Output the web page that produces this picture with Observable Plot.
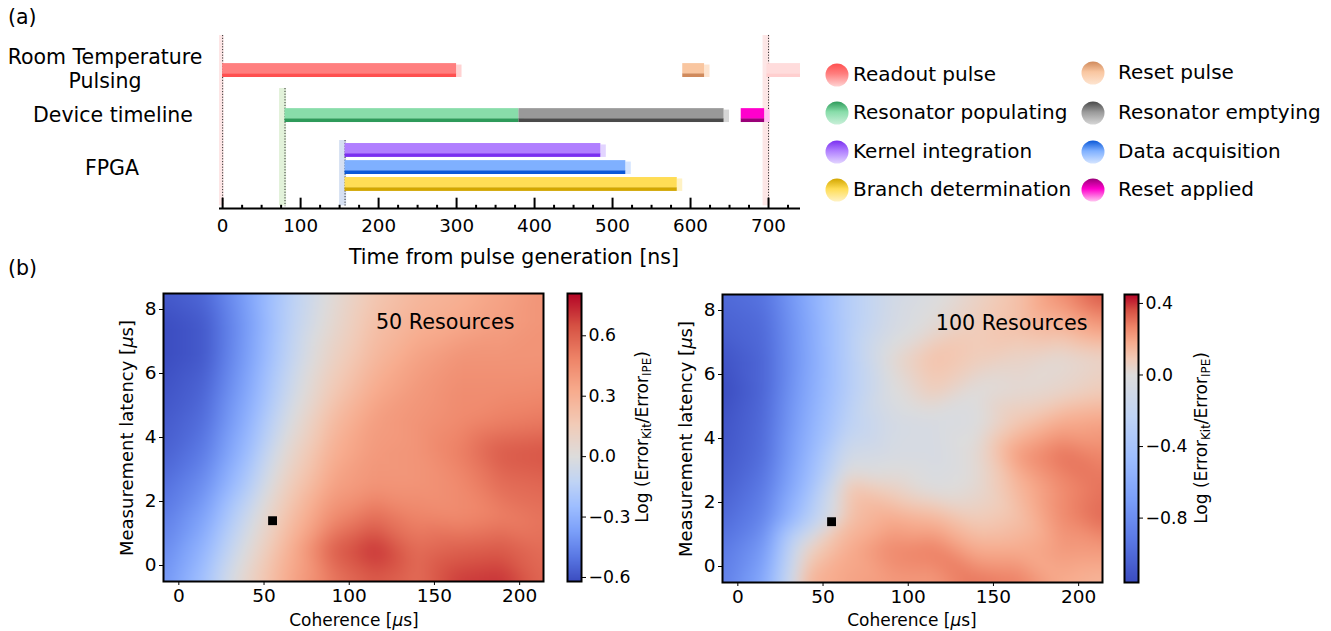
<!DOCTYPE html>
<html><head><meta charset="utf-8">
<script src="https://cdn.jsdelivr.net/npm/d3@7"></script>
<script src="https://cdn.jsdelivr.net/npm/@observablehq/plot@0.6"></script>
<style>
html,body{margin:0;padding:0;background:#fff;}
body{width:1331px;height:631px;overflow:hidden;position:relative;color:#000;font-family:"DejaVu Sans",sans-serif;}
.abs{position:absolute;white-space:nowrap;line-height:1;}
.c{transform:translate(-50%,-50%);}
.l{transform:translate(0,-50%);}
.rot{transform:translate(-50%,-50%) rotate(-90deg);}
.dot{position:absolute;width:23px;height:23px;border-radius:50%;transform:translate(-50%,-50%);}
sub{font-size:0.7em;vertical-align:-0.25em;}
</style></head><body>
<script>
const FONT = `"DejaVu Sans", sans-serif`;
// ---------------- DATA ----------------
// (a) timeline
const barTask  = ["Readout pulse","Reset pulse","Readout pulse (next cycle)","Resonator populating","Resonator emptying","Reset applied","Kernel integration","Data acquisition","Branch determination"];
const barStart = [0, 590, 698, 80, 380, 665, 157, 157, 157];
const barEnd   = [300, 618, 745, 380, 643, 695, 485, 517, 583];
const barLane  = ["rt","rt","rt","dev","dev","dev","fpgaK","fpgaD","fpgaB"];
const markerTime = [0, 80, 157, 700];
const markerFrom = ["rt","dev","fpga","rt"];
const markerKind = ["readout","populate","fpga","readout"];
const timeTicks  = [0,100,200,300,400,500,600,700];
const timeMinor  = [25,50,75,125,150,175,225,250,275,325,350,375,425,450,475,525,550,575,625,650,675,725];
const laneLabels = [["Room Temperature","Pulsing"],["Device timeline"],["FPGA"]];
const legendLeft  = ["Readout pulse","Resonator populating","Kernel integration","Branch determination"];
const legendRight = ["Reset pulse","Resonator emptying","Data acquisition","Reset applied"];

// (b) heatmaps: grid of log error ratios, rows from top latency to bottom
const coherenceGrid = [-9, 15, 40, 65, 90, 115, 140, 165, 190, 214];
const latencyGrid   = [8.5, 7.5, 6.5, 5.5, 4.5, 3.5, 2.5, 1.5, 0.5, -0.5];
const values50 = [
  [-0.58,-0.54,-0.36,-0.15, 0.02, 0.18, 0.26, 0.30, 0.36, 0.42],
  [-0.62,-0.58,-0.38,-0.14, 0.05, 0.22, 0.30, 0.34, 0.38, 0.42],
  [-0.62,-0.58,-0.37,-0.12, 0.10, 0.26, 0.36, 0.42, 0.42, 0.42],
  [-0.60,-0.55,-0.34,-0.08, 0.16, 0.32, 0.40, 0.45, 0.45, 0.46],
  [-0.58,-0.52,-0.30,-0.02, 0.24, 0.38, 0.42, 0.46, 0.50, 0.52],
  [-0.56,-0.48,-0.25, 0.06, 0.30, 0.40, 0.42, 0.50, 0.62, 0.64],
  [-0.52,-0.42,-0.18, 0.14, 0.36, 0.42, 0.42, 0.46, 0.56, 0.58],
  [-0.48,-0.35,-0.08, 0.22, 0.45, 0.56, 0.48, 0.46, 0.50, 0.54],
  [-0.44,-0.28, 0.00, 0.30, 0.60, 0.72, 0.56, 0.60, 0.62, 0.56],
  [-0.40,-0.22, 0.08, 0.34, 0.52, 0.62, 0.56, 0.70, 0.72, 0.58]
];
const values100 = [
  [-1.00,-0.95,-0.62,-0.30,-0.10,-0.02, 0.05, 0.12, 0.25, 0.36],
  [-1.05,-1.00,-0.65,-0.30,-0.08, 0.02, 0.08, 0.12, 0.15, 0.22],
  [-1.12,-1.02,-0.66,-0.30, 0.02, 0.12, 0.08, 0.05, 0.02, 0.05],
  [-1.16,-1.02,-0.64,-0.30,-0.02, 0.08, 0.00, 0.02, 0.04, 0.08],
  [-1.12,-1.00,-0.60,-0.25,-0.08,-0.05,-0.02, 0.10, 0.18, 0.20],
  [-1.10,-0.98,-0.55,-0.10,-0.06,-0.06, 0.02, 0.22, 0.30, 0.26],
  [-1.06,-0.92,-0.48, 0.10, 0.05,-0.02, 0.02, 0.15, 0.25, 0.30],
  [-1.00,-0.85,-0.35, 0.12, 0.18, 0.15, 0.08, 0.12, 0.25, 0.32],
  [-0.92,-0.72, 0.05, 0.18, 0.26, 0.28, 0.18, 0.18, 0.22, 0.22],
  [-0.88,-0.62, 0.15, 0.20, 0.22, 0.22, 0.30, 0.28, 0.18, 0.15]
];
const operatingPoint = [{coherence: 55, latency: 1.4}];
const coherenceTicks = [0,50,100,150,200];
const latencyTicks = [0,2,4,6,8];
const cbTicks50 = [-0.6,-0.3,0.0,0.3,0.6];
const cbTicks100 = [-0.8,-0.4,0.0,0.4];
const cbDomain50 = [-0.62, 0.81];
const cbDomain100 = [-1.16, 0.45];

// ---------------- STYLE / LAYOUT ----------------
const taskStyle = {
  "Readout pulse": {face:"#ff7f7f", edge:"#ff5050", cap:"#ffd2d2"},
  "Reset pulse": {face:"#f9c6a0", edge:"#d08a5c", cap:"#fde4d0"},
  "Readout pulse (next cycle)": {face:"#ffdcdc", edge:"#ffcfcf", cap:"#ffecec"},
  "Resonator populating": {face:"#88ddaa", edge:"#2e9a5a", cap:"#c8efd8"},
  "Resonator emptying": {face:"#999999", edge:"#4a4a4a", cap:"#d6d6d6"},
  "Reset applied": {face:"#ff00cc", edge:"#9a0078", cap:"#ffc4f0"},
  "Kernel integration": {face:"#b07fff", edge:"#7a2ff0", cap:"#e2d4ff"},
  "Data acquisition": {face:"#7fb0ff", edge:"#0a58d8", cap:"#d4e4ff"},
  "Branch determination": {face:"#ffdd55", edge:"#d2a600", cap:"#fff2c4"}
};
const laneCenter = {rt: 2.25, dev: 4.78, fpgaK: 6.74, fpgaD: 7.70, fpgaB: 8.65};
const markerTop = {rt: 0.28, dev: 3.26, fpga: 6.18};
const markerColor = {readout: "#fde6e6", populate: "#e2f2da", fpga: "#d6e0f2"};
const coolwarm = d3.piecewise(d3.interpolateRgb, ['#3b4cc0','#5a78e4','#7b9ff9','#9ebeff','#c0d4f5','#dddcdc','#f2cbb7','#f7ac8e','#ee8468','#d65244','#b40426']);

function place(node, left, top) {
  const d = document.createElement("div");
  d.style.position = "absolute"; d.style.left = left + "px"; d.style.top = top + "px";
  d.appendChild(node); document.body.appendChild(d); return d;
}
function text(html, x, y, cls, extra) {
  const d = document.createElement("div");
  d.className = "abs " + cls; d.innerHTML = html;
  d.style.left = x + "px"; d.style.top = y + "px";
  if (extra) Object.assign(d.style, extra);
  document.body.appendChild(d); return d;
}

// ---------------- (a) TIMELINE ----------------
const bars = barTask.map((t, i) => ({task: t, start: barStart[i], end: barEnd[i], c: laneCenter[barLane[i]]}));
const markers = markerTime.map((t, i) => ({t, from: markerFrom[i], kind: markerKind[i]}));
const H = 0.39, E = 0.2;
const timeline = Plot.plot({
  width: 810, height: 270, marginLeft: 219, marginRight: 10, marginTop: 30, marginBottom: 62,
  style: {fontFamily: FONT, fontSize: "18.3px", color: "black", background: "transparent"},
  x: {domain: [-4, 741]},
  y: {domain: [0, 10], reverse: true, axis: null},
  color: {type: "identity"},
  marks: [
    Plot.rect(markers, {x1: d => d.t - 7, x2: d => d.t + 2, y1: d => markerTop[d.from], y2: 9.85, fill: d => markerColor[d.kind], clip: true}),
    Plot.ruleX(markers, {x: "t", y1: d => markerTop[d.from], y2: 9.9, stroke: "#333", strokeWidth: 1, strokeDasharray: "1.2 1.6"}),
    Plot.rect(bars, {x1: "end", x2: d => d.end + 7, y1: d => d.c - H + 0.08, y2: d => d.c + H, fill: d => taskStyle[d.task].cap, clip: true}),
    Plot.rect(bars, {x1: "start", x2: "end", y1: d => d.c - H, y2: d => d.c + H - E + 0.02, fill: d => taskStyle[d.task].face, clip: true}),
    Plot.rect(bars, {x1: "start", x2: "end", y1: d => d.c + H - E, y2: d => d.c + H, fill: d => taskStyle[d.task].edge, clip: true}),
    Plot.ruleY([10], {stroke: "black", strokeWidth: 2}),
    Plot.ruleX(timeTicks, {x: d => d, y1: 10, y2: 9.42, stroke: "black", strokeWidth: 2}),
    Plot.ruleX(timeMinor, {x: d => d, y1: 10, y2: 9.82, stroke: "black", strokeWidth: 2}),
    Plot.axisX({ticks: timeTicks, tickSize: 0, tickPadding: 10, tickFormat: d => String(d), label: null})
  ]
});
place(timeline, 0, 0);

const big = {fontSize: "20.5px"};
text("(a)", 8, 17, "l", big);
text(laneLabels[0][0], 105, 57, "c", big);
text(laneLabels[0][1], 105, 81, "c", big);
text(laneLabels[1][0], 113, 115, "c", big);
text(laneLabels[2][0], 112, 168, "c", big);
text("Time from pulse generation [ns]", 514, 257, "c", big);
text("(b)", 8, 268, "l", big);

// legend
const rowsY = [75, 113, 152, 190];
function legendItem(name, cx, tx, y) {
  const s = taskStyle[name];
  const dot = document.createElement("div");
  dot.className = "dot"; dot.style.left = cx + "px"; dot.style.top = y + "px";
  dot.style.background = `linear-gradient(to bottom, ${s.edge} 0%, ${s.face} 45%, ${s.cap} 100%)`;
  document.body.appendChild(dot);
  text(name, tx, y - 1, "l", {fontSize: "20px"});
}
legendLeft.forEach((n, i) => legendItem(n, 837, 853, rowsY[i]));
legendRight.forEach((n, i) => legendItem(n, 1093, 1118, rowsY[i] - (i === 0 ? 2 : 0)));

// ---------------- (b) HEATMAPS ----------------
function colorScale(domain) {
  return {type: "diverging", pivot: 0, symmetric: false, domain, interpolate: coolwarm, clamp: true};
}
function heatmap(values, domain, label, dx) {
  const pts = [];
  latencyGrid.forEach((yv, i) => coherenceGrid.forEach((xv, j) => pts.push({x: xv, y: yv, v: values[i][j]})));
  return Plot.plot({
    width: 460, height: 346, marginLeft: 63, marginRight: 17, marginTop: 8, marginBottom: 50,
    style: {fontFamily: FONT, fontSize: "18.5px", color: "black", background: "transparent"},
    x: {domain: [-9, 214], ticks: coherenceTicks, tickSize: 4, tickPadding: 3, label: null},
    y: {domain: [-0.5, 8.5], ticks: latencyTicks, tickSize: 4, tickPadding: 3, label: null},
    color: colorScale(domain),
    marks: [
      Plot.raster(pts, {x: "x", y: "y", fill: "v", x1: -9, x2: 214, y1: -0.5, y2: 8.5, interpolate: "barycentric", blur: 7}),
      Plot.dot(operatingPoint, {x: "coherence", y: "latency", symbol: "square", fill: "black", r: 5}),
      Plot.text([label], {frameAnchor: "top-right", textAnchor: "end", lineAnchor: "middle", dx: dx, dy: 29, fontSize: 20.7}),
      Plot.frame({stroke: "black", strokeWidth: 2})
    ]
  });
}
function colorbar(domain, ticks) {
  return Plot.plot({
    width: 80, height: 346, marginLeft: 8, marginRight: 58, marginTop: 8, marginBottom: 50,
    style: {fontFamily: FONT, fontSize: "17.3px", color: "black", background: "transparent"},
    x: {domain: [0, 1], axis: null},
    y: {domain, axis: null},
    color: colorScale(domain),
    marks: [
      Plot.raster({x1: 0, x2: 1, y1: domain[0], y2: domain[1], fill: (x, y) => y}),
      Plot.frame({stroke: "black", strokeWidth: 2}),
      Plot.axisY({anchor: "right", ticks, tickSize: 4, tickPadding: 3, label: null,
        tickFormat: d => (d < 0 ? "\u2212" : "") + Math.abs(d).toFixed(1)})
    ]
  });
}
place(heatmap(values50, cbDomain50, "50 Resources", -29), 100, 285);
place(colorbar(cbDomain50, cbTicks50), 559, 285);
place(heatmap(values100, cbDomain100, "100 Resources", -15), 659, 286);
place(colorbar(cbDomain100, cbTicks100), 1116, 286);

const cbLabel = "Log (Error<sub>Kit</sub>/Error<sub>IPE</sub>)";
text(cbLabel, 644, 437, "rot", {fontSize: "17px"});
text(cbLabel, 1203, 438, "rot", {fontSize: "17px"});
text("Measurement latency [<i>\u03bc</i>s]", 127, 438, "rot", {fontSize: "18px"});
text("Measurement latency [<i>\u03bc</i>s]", 686, 439, "rot", {fontSize: "18px"});
text("Coherence [<i>\u03bc</i>s]", 354, 620, "c", {fontSize: "17px"});
text("Coherence [<i>\u03bc</i>s]", 912, 620, "c", {fontSize: "17px"});
</script>
</body></html>
